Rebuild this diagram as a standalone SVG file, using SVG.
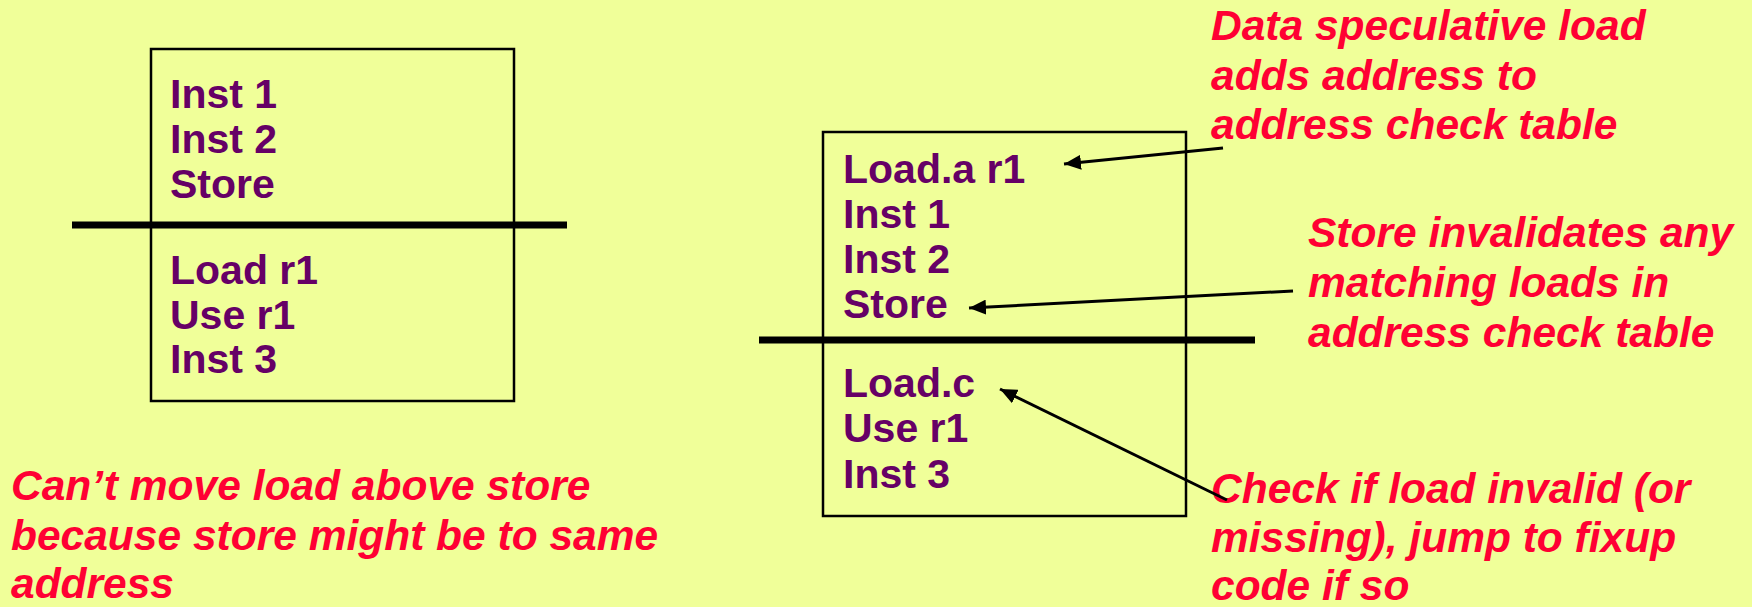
<svg xmlns="http://www.w3.org/2000/svg" width="1752" height="607" viewBox="0 0 1752 607">
<defs>
<style>
.bg{fill:#F0FF99}
.box{fill:none;stroke:#000;stroke-width:2.5}
.bar{stroke:#000;stroke-width:7}
.code{font-family:"Liberation Sans",Arial,sans-serif;font-weight:bold;font-size:41px;fill:#660066}
.note{font-family:"Liberation Sans",Arial,sans-serif;font-weight:bold;font-style:italic;font-size:42.5px;fill:#FF0033}
.conn{stroke:#000;stroke-width:3;fill:none;marker-end:url(#ah)}
</style>
<marker id="ah" markerUnits="userSpaceOnUse" markerWidth="18" markerHeight="15" refX="17" refY="7.5" orient="auto">
<path d="M0,0 L17,7.5 L0,15 z" fill="#000"/>
</marker>
</defs>
<rect class="bg" x="0" y="0" width="1752" height="607"/>
<g id="left-block">
<rect class="box" x="151" y="49" width="363" height="352"/>
<line class="bar" x1="72" y1="225" x2="567" y2="225"/>
<text class="code" x="170" y="108">Inst 1</text>
<text class="code" x="170" y="153">Inst 2</text>
<text class="code" x="170" y="198">Store</text>
<text class="code" x="170" y="284">Load r1</text>
<text class="code" x="170" y="329">Use r1</text>
<text class="code" x="170" y="373">Inst 3</text>
</g>
<g id="right-block">
<rect class="box" x="823" y="132" width="363" height="384"/>
<line class="bar" x1="759" y1="340" x2="1255" y2="340"/>
<text class="code" x="843" y="183">Load.a r1</text>
<text class="code" x="843" y="228">Inst 1</text>
<text class="code" x="843" y="273">Inst 2</text>
<text class="code" x="843" y="318">Store</text>
<text class="code" x="843" y="397">Load.c</text>
<text class="code" x="843" y="442">Use r1</text>
<text class="code" x="843" y="488">Inst 3</text>
</g>
<g id="note-left">
<text class="note" x="11" y="500">Can’t move load above store</text>
<text class="note" x="11" y="550">because store might be to same</text>
<text class="note" x="11" y="598">address</text>
</g>
<g id="note-data-spec">
<text class="note" x="1211" y="40">Data speculative load</text>
<text class="note" x="1211" y="90">adds address to</text>
<text class="note" x="1211" y="139">address check table</text>
</g>
<g id="note-store">
<text class="note" x="1308" y="247">Store invalidates any</text>
<text class="note" x="1308" y="297">matching loads in</text>
<text class="note" x="1308" y="347">address check table</text>
</g>
<g id="note-check">
<text class="note" x="1211" y="503">Check if load invalid (or</text>
<text class="note" x="1211" y="552">missing), jump to fixup</text>
<text class="note" x="1211" y="600">code if so</text>
</g>
<g id="connectors">
<line class="conn" x1="1223" y1="148" x2="1064" y2="164"/>
<line class="conn" x1="1293" y1="291" x2="969" y2="308"/>
<line class="conn" x1="1227" y1="500" x2="1000" y2="389"/>
</g>
</svg>
